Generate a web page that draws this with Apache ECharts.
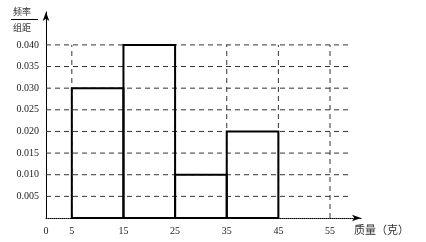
<!DOCTYPE html>
<html><head><meta charset="utf-8">
<script src="https://cdn.jsdelivr.net/npm/echarts@6/dist/echarts.min.js"></script>
<style>html,body{margin:0;padding:0;background:#fff}#c{width:426px;height:242px}</style>
</head><body><div id="c"></div>
<script>
// Histogram data: class intervals and frequency/width
var binStarts = [5, 15, 25, 35];
var binEnds = [15, 25, 35, 45];
var binValues = [0.030, 0.040, 0.010, 0.020];
var xTickLabels = [0, 5, 15, 25, 35, 45, 55];
var yTickLabels = [0.005, 0.010, 0.015, 0.020, 0.025, 0.030, 0.035, 0.040];
var yTitleTop = '频率';
var yTitleBottom = '组距';
var xTitle = '质量（克）';

var FONT = 'Liberation Serif';
var series = [];
// horizontal grid lines
yTickLabels.forEach(function (v) {
  series.push({type: 'line', silent: true, symbol: 'none', z: 1,
    lineStyle: {color: '#333', width: 1, type: [5, 4]},
    data: [[0, v], [58.5, v]]});
});
// vertical grid lines
xTickLabels.slice(1).forEach(function (v) {
  series.push({type: 'line', silent: true, symbol: 'none', z: 1,
    lineStyle: {color: '#333', width: 1, type: [5, 4]},
    data: [[v, 0], [v, yTickLabels[yTickLabels.length - 1]]]});
});
// histogram bars (outline only)
series.push({
  type: 'custom', z: 5,
  data: binStarts.map(function (s, i) { return [s, binEnds[i], binValues[i]]; }),
  renderItem: function (params, api) {
    var p0 = api.coord([api.value(0), api.value(2)]);
    var p1 = api.coord([api.value(1), 0]);
    return {type: 'rect', shape: {x: p0[0], y: p0[1], width: p1[0] - p0[0], height: p1[1] - p0[1]},
      style: {fill: 'none', stroke: '#000', lineWidth: 2}};
  }
});

var chart = echarts.init(document.getElementById('c'));
chart.setOption({
  animation: false,
  grid: {left: 46, right: 65, top: 12, bottom: 24},
  xAxis: {type: 'value', min: 0, max: 61,
    axisLine: {show: true, lineStyle: {color: '#000', width: 1, type: 'dotted'}, symbol: ['none', 'arrow'], symbolSize: [5, 9]},
    axisTick: {show: false}, splitLine: {show: false},
    axisLabel: {customValues: xTickLabels, margin: 8, color: '#222', fontFamily: FONT, fontSize: 10}
  },
  yAxis: {type: 'value', min: 0, max: 0.0476,
    axisLine: {show: true, lineStyle: {color: '#000', width: 1}, symbol: ['none', 'arrow'], symbolSize: [5, 9]},
    axisTick: {show: false}, splitLine: {show: false},
    axisLabel: {customValues: yTickLabels, margin: 7, color: '#222', fontFamily: FONT, fontSize: 10,
      formatter: function (v) { return v.toFixed(3); }}
  },
  series: series,
  graphic: [
    {type: 'text', left: 13, top: 7, style: {text: yTitleTop, font: '9px "Noto Sans CJK SC"', fill: '#333'}},
    {type: 'line', shape: {x1: 11, y1: 19.5, x2: 38, y2: 19.5}, style: {stroke: '#000', lineWidth: 1}},
    {type: 'text', left: 13, top: 23, style: {text: yTitleBottom, font: '9px "Noto Sans CJK SC"', fill: '#333'}},
    {type: 'text', left: 354, top: 224, style: {text: xTitle, font: '11px "Noto Sans CJK SC"', fill: '#333'}}
  ]
});
</script></body></html>
